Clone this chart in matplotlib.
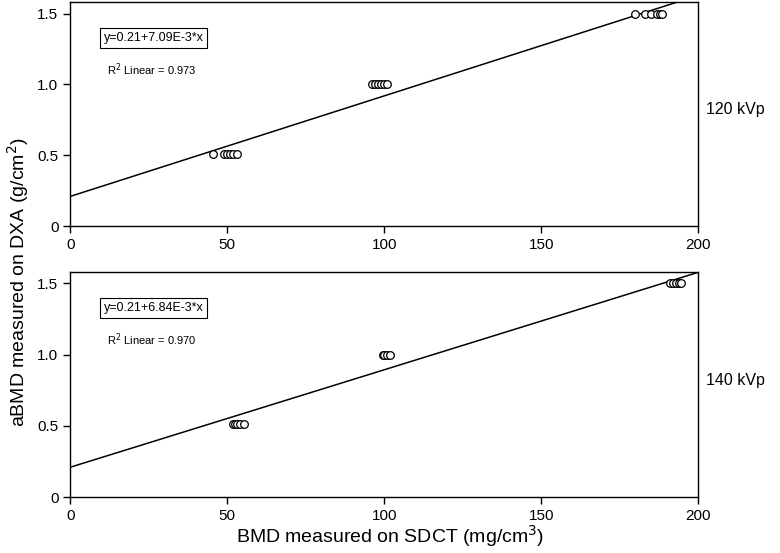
import numpy as np
import matplotlib
matplotlib.use("Agg")
import matplotlib.pyplot as plt

plt.rcParams['font.family'] = ['Liberation Sans', 'DejaVu Sans']

# 120 kVp: SDCT BMD (mg/cm3) vs DXA aBMD (g/cm2)
x120 = [45.5, 49, 50, 51, 52, 53,
        96, 97, 98, 99, 100, 101,
        180, 183, 185, 187, 188, 188.5]
y120 = [0.51]*6 + [1.0]*6 + [1.5]*6

# 140 kVp
x140 = [52, 52.5, 53, 54, 55.5,
        99.5, 100, 101, 102,
        191, 192, 193, 194, 194.5]
y140 = [0.51]*5 + [1.0]*4 + [1.5]*5

fits = [(0.21, 7.09e-3, "y=0.21+7.09E-3*x", "0.973", "120 kVp"),
        (0.21, 6.84e-3, "y=0.21+6.84E-3*x", "0.970", "140 kVp")]
data = [(x120, y120), (x140, y140)]

fig = plt.figure(figsize=(7.8, 5.53), dpi=100)
ax1 = fig.add_axes([0.09, 0.591, 0.805, 0.405])
ax2 = fig.add_axes([0.09, 0.101, 0.805, 0.407])

for ax, (xs, ys), (b0, b1, eq, r2, lab) in zip([ax1, ax2], data, fits):
    xl = np.array([0, 200])
    ax.plot(xl, b0 + b1*xl, color='black', lw=1.1)
    ax.plot(xs, ys, 'o', mfc='white', mec='black', ms=5.5, mew=0.9)
    ax.set_xlim(0, 200)
    ax.set_ylim(0, 1.58)
    ax.set_xticks([0, 50, 100, 150, 200])
    ax.set_yticks([0, 0.5, 1.0, 1.5])
    ax.set_yticklabels(['0', '0.5', '1.0', '1.5'])
    ax.tick_params(direction='out', length=5, width=1, labelsize=11)
    for s in ax.spines.values():
        s.set_linewidth(1)
    ax.text(0.053, 0.84, eq, transform=ax.transAxes, fontsize=9, va='center',
            bbox=dict(boxstyle='square,pad=0.3', fc='white', ec='black', lw=0.8))
    ax.text(0.058, 0.70, r'R$^2$ Linear = ' + r2, transform=ax.transAxes,
            fontsize=8, va='center')
    ax.text(1.012, 0.52, lab, transform=ax.transAxes, fontsize=11.5, va='center')

fig.text(0.023, 0.49, 'aBMD measured on DXA (g/cm$^2$)', rotation=90,
         fontsize=14, va='center', ha='center')
fig.text(0.5, 0.03, 'BMD measured on SDCT (mg/cm$^3$)', fontsize=14,
         va='center', ha='center')

plt.savefig('out.png', dpi=100)
